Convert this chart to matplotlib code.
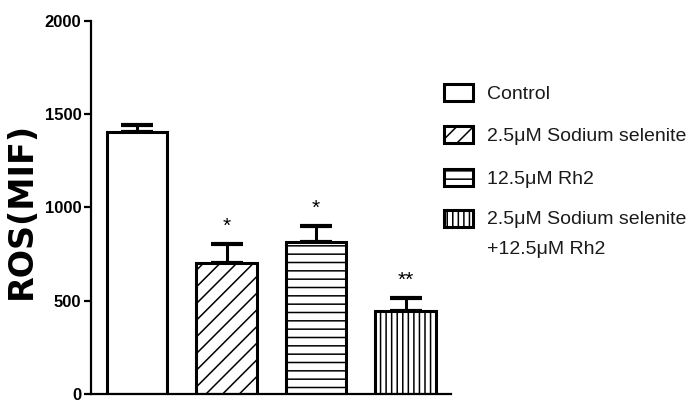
import numpy as np
import matplotlib
matplotlib.use("Agg")
import matplotlib.pyplot as plt
from matplotlib.patches import Patch

groups = ["Control", "2.5\u03bcM Sodium selenite", "12.5\u03bcM Rh2",
          "2.5\u03bcM Sodium selenite\n+12.5\u03bcM Rh2"]
means = [1404, 700, 812, 444]
errs = [38, 103, 89, 68]
stars = ["", "*", "*", "**"]
hatches = ["", "//", "--", "|||"]

plt.rcParams["hatch.linewidth"] = 1.1
sans = ["Liberation Sans", "DejaVu Sans"]

fig = plt.figure(figsize=(6.89, 4.03), dpi=100)
ax = fig.add_axes([91 / 689, 9 / 403, 360 / 689, 373.3 / 403])

x = np.arange(len(means))
ax.bar(x, means, width=0.676, color="white", edgecolor="black",
       linewidth=2.2, hatch=hatches, zorder=2)
ax.errorbar(x, means, yerr=[np.zeros(len(errs)), errs], fmt="none",
            ecolor="black", elinewidth=2.2, capsize=11.5, capthick=3, zorder=1)
for xi, m, e, s in zip(x, means, errs, stars):
    if s:
        ax.annotate(s, (xi, m + e), xytext=(0, 6), textcoords="offset points",
                    ha="center", va="bottom", fontsize=15, family=sans)

ax.set_xlim(-0.514, 3.508)
ax.set_ylim(0, 2000)
ax.set_yticks([0, 500, 1000, 1500, 2000])
ax.set_xticks([])
for sp in ["top", "right"]:
    ax.spines[sp].set_visible(False)
for sp in ["left", "bottom"]:
    ax.spines[sp].set_linewidth(1.6)
ax.tick_params(axis="y", length=5, width=1.6, pad=2)
for lbl in ax.get_yticklabels():
    lbl.set_fontfamily(sans)
    lbl.set_fontweight("bold")
    lbl.set_fontsize(12)
ax.set_ylabel("ROS(MIF)", fontsize=24, fontweight="bold", family="DejaVu Sans")
ax.yaxis.set_label_coords(-0.148, 0.493)

handles = [Patch(facecolor="white", edgecolor="black", linewidth=2.2, hatch=h)
           for h in hatches]
leg = ax.legend(handles, groups, loc="upper left",
                bbox_to_anchor=(444 / 689, 1 - 84 / 403),
                bbox_transform=fig.transFigure, frameon=False,
                prop={"family": sans, "size": 14}, handlelength=1.5,
                handleheight=0.95, handletextpad=0.7, labelspacing=1.2,
                borderaxespad=0, borderpad=0)
for t in leg.get_texts():
    t.set_color("#1a1a1a")
leg.get_texts()[3].set_linespacing(2.0)
# keep the last box level with the first line of its two-line label
last = leg.get_patches()[3]
last.set_y(last.get_y() + 11.5)

fig.savefig("out.png", dpi=100)
